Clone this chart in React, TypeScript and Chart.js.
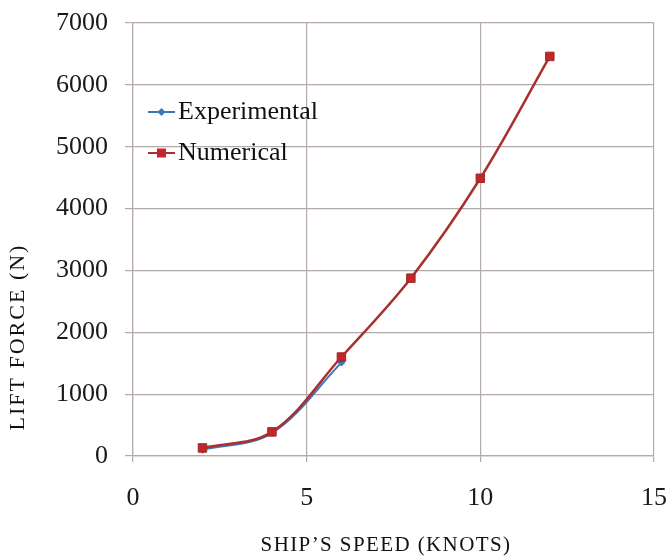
import React, { useEffect, useRef } from "react";
import { Chart, registerables } from "chart.js";

Chart.register(...registerables);

const speedExperimental = [2, 4, 6];
const liftExperimental = [100, 370, 1510];
const speedNumerical = [2, 4, 6, 8, 10, 12];
const liftNumerical = [130, 390, 1600, 2875, 4490, 6460];
const seriesNames = ["Experimental", "Numerical"];
const xTitle = "SHIP\u2019S SPEED (KNOTS)";
const yTitle = "LIFT FORCE (N)";

const BLUE = "#3d78b6";
const RED = "#a8302f";
const RED_MARK = "#c3252b";
const GRID = "#b4aba8";
const SERIF = "'Liberation Serif', 'Times New Roman', serif";

const legendPlugin = {
  id: "insideLegend",
  afterDatasetsDraw(chart: any) {
    const ctx = chart.ctx;
    const a = chart.chartArea;
    const items = [
      { label: seriesNames[0], color: BLUE, mark: BLUE, shape: "diamond", dy: 89 },
      { label: seriesNames[1], color: RED, mark: RED_MARK, shape: "square", dy: 130 },
    ];
    ctx.save();
    items.forEach((it) => {
      const y = a.top + it.dy;
      const x0 = a.left + 15;
      const x1 = a.left + 42;
      ctx.strokeStyle = it.color;
      ctx.lineWidth = 2;
      ctx.beginPath();
      ctx.moveTo(x0, y);
      ctx.lineTo(x1, y);
      ctx.stroke();
      const cx = (x0 + x1) / 2;
      ctx.fillStyle = it.mark;
      if (it.shape === "diamond") {
        ctx.beginPath();
        ctx.moveTo(cx, y - 4);
        ctx.lineTo(cx + 4, y);
        ctx.lineTo(cx, y + 4);
        ctx.lineTo(cx - 4, y);
        ctx.closePath();
        ctx.fill();
      } else {
        ctx.fillRect(cx - 4.5, y - 4.5, 9, 9);
      }
      ctx.fillStyle = "#111";
      ctx.font = `26px ${SERIF}`;
      ctx.textBaseline = "middle";
      ctx.textAlign = "left";
      ctx.fillText(it.label, x1 + 3, y);
    });
    ctx.restore();
  },
};

const titlesPlugin = {
  id: "axisTitles",
  afterDraw(chart: any) {
    const ctx = chart.ctx;
    ctx.save();
    ctx.fillStyle = "#111";
    ctx.font = `21px ${SERIF}`;
    (ctx as any).letterSpacing = "1.4px";
    ctx.textAlign = "center";
    ctx.textBaseline = "middle";
    ctx.fillText(xTitle, 386, 545);
    (ctx as any).letterSpacing = "2px";
    ctx.font = `22px ${SERIF}`;
    ctx.translate(18, 337);
    ctx.rotate(-Math.PI / 2);
    ctx.fillText(yTitle, 0, 0);
    ctx.restore();
  },
};

export default function App() {
  const ref = useRef<HTMLCanvasElement>(null);
  useEffect(() => {
    if (!ref.current) return;
    const chart = new Chart(ref.current, {
      type: "line",
      data: {
        datasets: [
          {
            label: seriesNames[0],
            data: speedExperimental.map((x, i) => ({ x, y: liftExperimental[i] })),
            borderColor: BLUE,
            backgroundColor: BLUE,
            borderWidth: 2,
            pointStyle: "rectRot",
            pointRadius: 4,
            pointBorderWidth: 0,
            tension: 0.35,
            order: 1,
          },
          {
            label: seriesNames[1],
            data: speedNumerical.map((x, i) => ({ x, y: liftNumerical[i] })),
            borderColor: RED,
            backgroundColor: RED_MARK,
            borderWidth: 2.5,
            pointStyle: "rect",
            pointRadius: 6,
            pointBorderColor: "#9e2a2a",
            pointBorderWidth: 1,
            tension: 0.35,
            order: 0,
          },
        ],
      },
      options: {
        responsive: false,
        animation: false,
        layout: { padding: { top: 23, right: 13, left: 0, bottom: 0 } },
        plugins: { legend: { display: false }, tooltip: { enabled: false } },
        scales: {
          x: {
            type: "linear",
            min: 0,
            max: 15,
            ticks: { stepSize: 5, color: "#1a1a1a", font: { family: SERIF, size: 26 }, padding: 21 },
            grid: { color: GRID, lineWidth: 1.2, tickLength: 6 },
            border: { color: GRID, width: 1.2 },
            afterFit: (s: any) => {
              s.height = 100;
              s.paddingLeft = 0;
              s.paddingRight = 0;
            },
          },
          y: {
            type: "linear",
            min: 0,
            max: 7000,
            ticks: {
              stepSize: 1000,
              color: "#1a1a1a",
              font: { family: SERIF, size: 26 },
              padding: 17,
              callback: (v: any) => String(v),
            },
            grid: { color: GRID, lineWidth: 1.2, tickLength: 8 },
            border: { color: GRID, width: 1.2 },
            afterFit: (s: any) => {
              s.width = 133;
              s.paddingTop = 0;
              s.paddingBottom = 0;
            },
          },
        },
      },
      plugins: [legendPlugin, titlesPlugin],
    } as any);
    return () => chart.destroy();
  }, []);
  return (
    <div style={{ position: "absolute", left: 0, top: 0, width: 667, height: 556, background: "#fff" }}>
      <canvas ref={ref} width={667} height={556} />
    </div>
  );
}
